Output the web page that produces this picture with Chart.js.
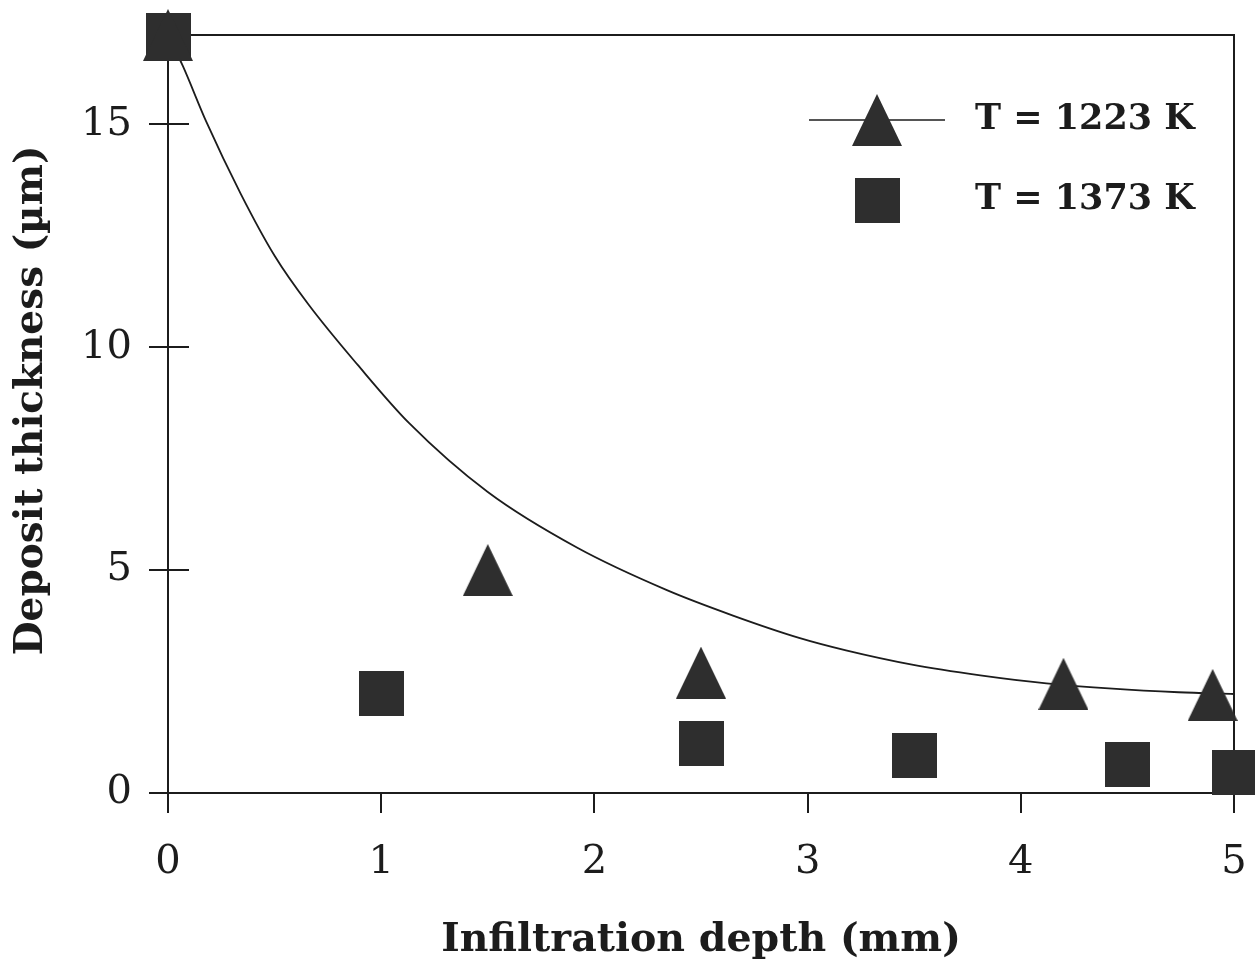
<!DOCTYPE html>
<html><head><meta charset="utf-8">
<script src="https://cdn.jsdelivr.net/npm/chart.js@4.4.1/dist/chart.umd.min.js"></script>
<style>html,body{margin:0;padding:0;background:#fff;}canvas{display:block;}</style>
</head><body>
<canvas id="c" width="1255" height="969"></canvas>
<script>
// ---- data ----
const xTicks = [0, 1, 2, 3, 4, 5];
const yTicks = [0, 5, 10, 15];
const seriesLabels = ['T = 1223 K', 'T = 1373 K'];
const tri1223X = [0, 1.5, 2.5, 4.2, 4.9];
const tri1223Y = [17, 5.0, 2.7, 2.45, 2.2];
const sq1373X = [0, 1.0, 2.5, 3.5, 4.5, 5.0];
const sq1373Y = [17, 2.24, 1.1, 0.83, 0.63, 0.47];
const fitX = [0, 0.07, 0.18, 0.34, 0.5, 0.66, 0.89, 1.13, 1.5, 1.92, 2.34, 2.65, 2.96, 3.18, 3.49, 3.81, 4.12, 4.43, 4.74, 5.0];
const fitY = [17, 16.3, 15.05, 13.45, 12.05, 10.95, 9.6, 8.3, 6.75, 5.5, 4.55, 3.98, 3.48, 3.2, 2.88, 2.64, 2.46, 2.34, 2.26, 2.22];
const xTitle = 'Infiltration depth (mm)';
const yTitle = '  Deposit thickness (µm)';

// ---- styles ----
const ink = '#1c1c1c';
const markFill = '#2e2e2e';
const serif = 'DejaVu Serif';
const innerTickLen = 20; // px, inward part of the y-axis ticks

function triangleImg(w, h, lineLen) {
  const cw = Math.max(w, lineLen || 0);
  const c = document.createElement('canvas');
  c.width = cw; c.height = h;
  const g = c.getContext('2d');
  if (lineLen) {
    g.strokeStyle = ink; g.lineWidth = 1.6;
    g.beginPath(); g.moveTo(0, h / 2); g.lineTo(cw, h / 2); g.stroke();
  }
  g.fillStyle = markFill;
  g.beginPath();
  g.moveTo(cw / 2, 0); g.lineTo(cw / 2 + w / 2, h); g.lineTo(cw / 2 - w / 2, h);
  g.closePath(); g.fill();
  return c;
}
function squareImg(s) {
  const c = document.createElement('canvas');
  c.width = s; c.height = s;
  const g = c.getContext('2d');
  g.fillStyle = markFill; g.fillRect(0, 0, s, s);
  return c;
}
const triImg = triangleImg(50, 52);
const legendTri = triangleImg(50, 52, 136);
const sqImg = squareImg(45);

const pts = (xs, ys) => xs.map((x, i) => ({x: x, y: ys[i]}));
const setTicks = (arr) => (s) => { s.ticks = arr.map(v => ({value: v})); };
const noPad = (s) => { s.paddingTop = 0; s.paddingBottom = 0; s.paddingLeft = 0; s.paddingRight = 0; };

const legendPlace = {
  id: 'legendPlace',
  beforeDraw(chart) {
    const L = chart.legend;
    if (!L) return;
    L.left = 751.5; L.top = 57.5; L.right = 1230; L.bottom = 500;
  }
};

new Chart(document.getElementById('c'), {
  type: 'scatter',
  data: {
    datasets: [
      {label: seriesLabels[0], data: pts(tri1223X, tri1223Y), pointStyle: triImg,
       pointRadius: 26, pointHoverRadius: 26, showLine: false, order: 0, clip: false},
      {label: seriesLabels[1], data: pts(sq1373X, sq1373Y), pointStyle: sqImg,
       pointRadius: 23, pointHoverRadius: 23, showLine: false, order: 1, clip: false},
      {label: 'fit', data: pts(fitX, fitY), showLine: true, pointRadius: 0, pointHoverRadius: 0,
       borderColor: ink, borderWidth: 1.8, cubicInterpolationMode: 'monotone', fill: false,
       order: 2, clip: false}
    ]
  },
  options: {
    responsive: false, animation: false, devicePixelRatio: 1, events: [],
    layout: {padding: {left: 0, top: 35, right: 21, bottom: 0}, autoPadding: false},
    plugins: {
      tooltip: {enabled: false},
      legend: {
        position: 'chartArea', align: 'start',
        labels: {
          usePointStyle: true, pointStyleWidth: 161, padding: 45,
          font: {family: serif, size: 35, weight: 'bold'}, color: ink,
          generateLabels: () => [
            {text: seriesLabels[0], pointStyle: legendTri, datasetIndex: 0, fillStyle: markFill,
             strokeStyle: markFill, lineWidth: 0, hidden: false, textAlign: 'left', fontColor: ink},
            {text: seriesLabels[1], pointStyle: sqImg, datasetIndex: 1, fillStyle: markFill,
             strokeStyle: markFill, lineWidth: 0, hidden: false, textAlign: 'left', fontColor: ink}
          ]
        }
      }
    },
    scales: {
      x: {
        type: 'linear', position: 'bottom', min: 0, max: 5,
        afterBuildTicks: setTicks(xTicks),
        ticks: {font: {family: serif, size: 40}, color: ink, padding: 26, maxRotation: 0, autoSkip: false},
        grid: {drawOnChartArea: false, tickLength: 20, color: ink, lineWidth: 2},
        border: {color: ink, width: 2},
        title: {display: true, text: xTitle, color: ink, font: {family: serif, size: 39.5, weight: 'bold'},
                padding: {top: 0, bottom: 5}},
        afterFit: (s) => { s.height = 176; noPad(s); }
      },
      xTop: {
        axis: 'x', type: 'linear', position: 'top', min: 0, max: 5,
        ticks: {display: false},
        grid: {display: true, drawOnChartArea: false, drawTicks: false, color: ink, lineWidth: 2},
        border: {display: true, color: ink, width: 2},
        afterFit: (s) => { s.height = 0; noPad(s); }
      },
      y: {
        type: 'linear', position: 'left', min: 0, max: 17,
        afterBuildTicks: setTicks(yTicks),
        ticks: {font: {family: serif, size: 40}, color: ink, padding: 17},
        // grid lines dashed so only their first innerTickLen px show: the inward half of each tick
        grid: {drawOnChartArea: true, tickLength: 19, color: ink, lineWidth: 2, tickColor: ink},
        border: {color: ink, width: 2, dash: [innerTickLen, 4000]},
        title: {display: true, text: yTitle, color: ink, font: {family: serif, size: 39, weight: 'bold'},
                padding: {top: 8, bottom: 0}},
        afterFit: (s) => { s.width = 168; noPad(s); }
      },
      yRight: {
        axis: 'y', type: 'linear', position: 'right', min: 0, max: 17,
        ticks: {display: false},
        grid: {display: true, drawOnChartArea: false, drawTicks: false, color: ink, lineWidth: 2},
        border: {display: true, color: ink, width: 2},
        afterFit: (s) => { s.width = 0; noPad(s); }
      }
    }
  },
  plugins: [legendPlace]
});
</script>
</body></html>
